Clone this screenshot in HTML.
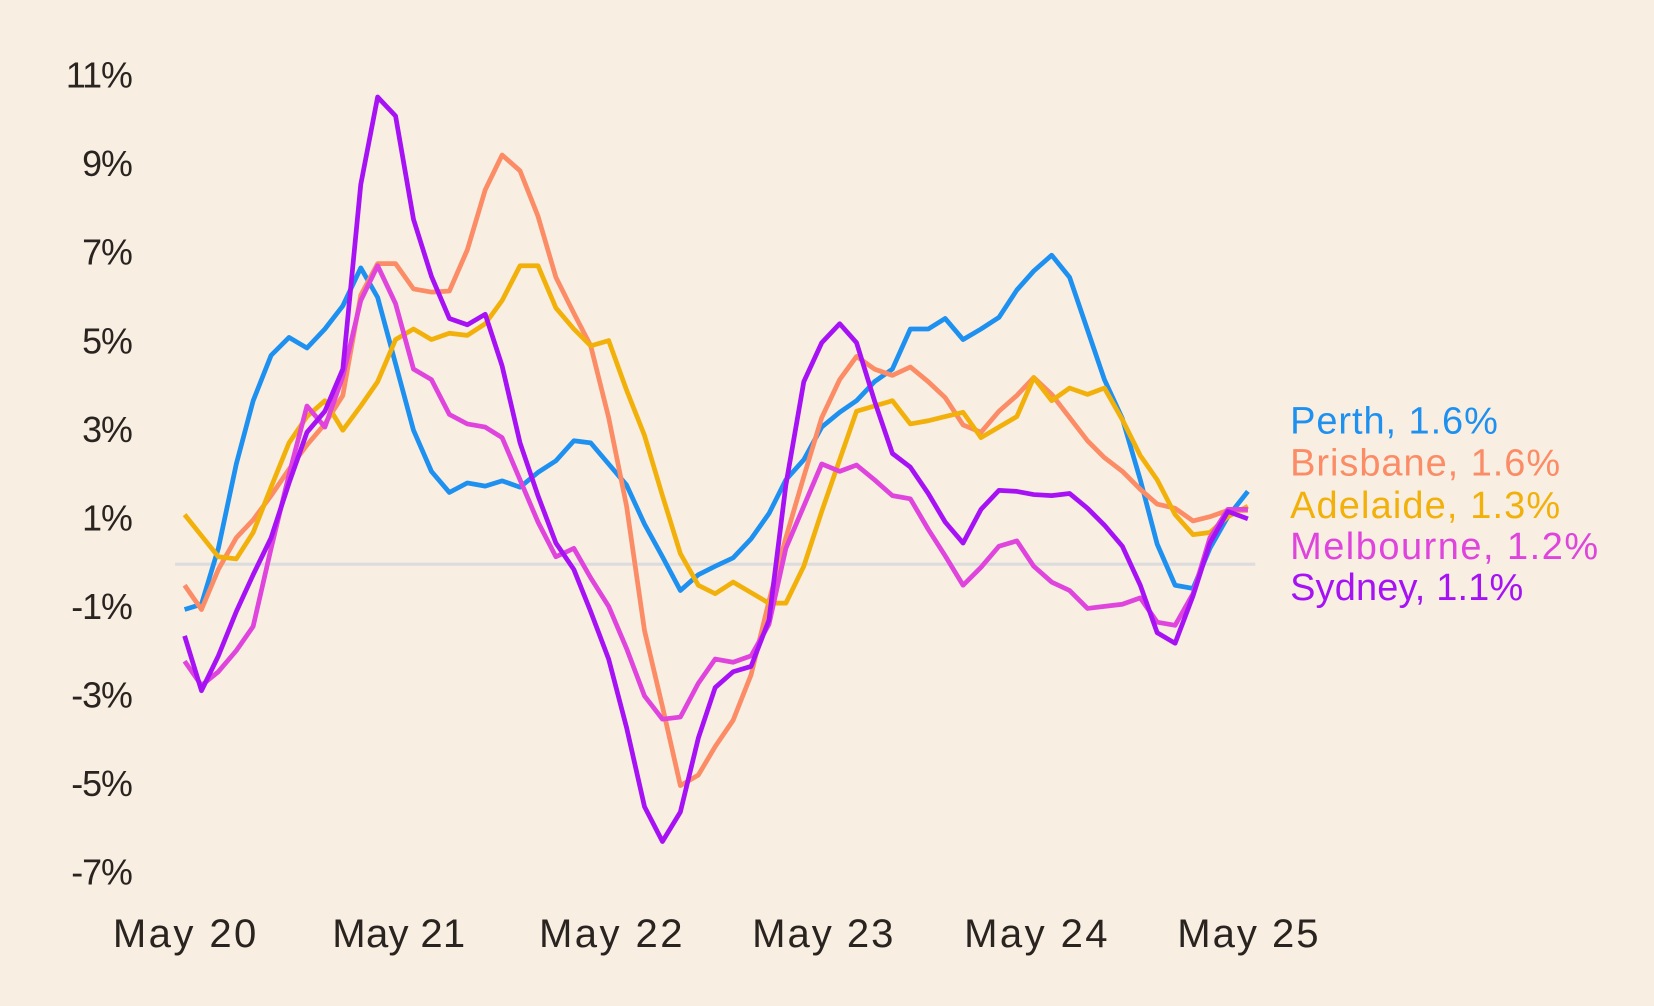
<!DOCTYPE html>
<html><head><meta charset="utf-8"><style>
html,body{margin:0;padding:0;background:#f8eee2;}
svg{display:block;}
text{font-family:"Liberation Sans",sans-serif;}
</style></head><body>
<svg width="1654" height="1006" viewBox="0 0 1568 954" preserveAspectRatio="none" xmlns="http://www.w3.org/2000/svg">
<rect width="1568" height="954" fill="#f8eee2"/>
<line x1="166" y1="535" x2="1190" y2="535" stroke="#dcdcdc" stroke-width="3"/>
<g font-size="34" fill="#2a2420" text-anchor="end" letter-spacing="-1">
<text x="125" y="83">11%</text><text x="125" y="167">9%</text><text x="125" y="251">7%</text><text x="125" y="335">5%</text><text x="125" y="419">3%</text><text x="125" y="503">1%</text><text x="125" y="587">-1%</text><text x="125" y="671">-3%</text><text x="125" y="755">-5%</text><text x="125" y="839">-7%</text>
</g>
<g font-size="38" fill="#2a2420">
<text x="107" y="898" textLength="136">May 20</text><text x="315" y="898" textLength="126">May 21</text><text x="511" y="898" textLength="136">May 22</text><text x="713" y="898" textLength="134">May 23</text><text x="914" y="898" textLength="136">May 24</text><text x="1116" y="898" textLength="134">May 25</text>
</g>
<g fill="none" stroke-width="4.5" stroke-linejoin="round">
<polyline stroke="#1e90f0" points="175,578 191,573 207,520 224,440 240,380 257,337 274,320 291,330 308,312 325,290 342,254 358,282 375,345 392,408 409,447 426,467 443,458 460,461 476,456 493,462 510,448 527,437 544,418 560,420 577,440 594,460 611,497 628,528 645,560 662,545 678,537 695,529 712,511 729,487 745,455 762,436 779,405 796,391 812,380 829,362 846,350 863,312 880,312 896,302 913,322 930,312 947,301 964,275 980,257 997,242 1014,263 1031,313 1047,360 1064,397 1081,455 1097,516 1114,555 1131,558 1147,520 1164,490 1183,466"/>
<polyline stroke="#fb8c66" points="175,555 191,578 207,540 224,510 240,493 257,470 274,445 291,422 308,402 325,375 342,280 358,250 375,250 392,274 409,277 426,276 443,237 460,180 476,147 493,162 510,205 527,263 544,297 560,328 577,396 594,480 611,598 628,670 645,745 662,735 678,708 695,683 712,640 729,570 745,510 762,452 779,396 796,360 812,338 829,350 846,356 863,348 880,362 896,377 913,403 930,410 947,390 964,375 980,358 997,374 1014,396 1031,418 1047,434 1064,447 1081,464 1097,478 1114,482 1131,494 1147,490 1164,484 1183,484"/>
<polyline stroke="#f2b10a" points="175,488 191,508 207,528 224,530 240,505 257,462 274,420 291,395 308,380 325,408 342,385 358,362 375,322 392,312 409,322 426,316 443,318 460,307 476,285 493,252 510,252 527,292 544,312 560,328 577,323 594,370 611,413 628,470 645,525 662,555 678,563 695,552 712,562 729,572 745,572 762,537 779,485 796,436 812,390 829,385 846,380 863,402 880,399 896,395 913,391 930,415 947,405 964,395 980,358 997,380 1014,368 1031,374 1047,368 1064,398 1081,432 1097,455 1114,488 1131,507 1147,505 1164,490 1183,480"/>
<polyline stroke="#df44dc" points="175,627 191,650 207,637 224,617 240,594 257,520 274,450 291,385 308,405 325,357 342,285 358,252 375,288 392,350 409,360 426,393 443,402 460,405 476,415 493,455 510,495 527,528 544,520 560,548 577,575 594,615 611,660 628,682 645,680 662,648 678,625 695,628 712,622 729,592 745,520 762,480 779,440 796,447 812,441 829,455 846,470 863,473 880,502 896,527 913,555 930,538 947,518 964,513 980,537 997,552 1014,560 1031,577 1047,575 1064,573 1081,567 1097,590 1114,593 1131,563 1147,510 1164,483 1183,483"/>
<polyline stroke="#a712f5" points="175,603 191,655 207,622 224,580 240,545 257,510 274,458 291,410 308,390 325,350 342,175 358,92 375,110 392,208 409,262 426,302 443,308 460,298 476,347 493,420 510,470 527,515 544,540 560,580 577,625 594,690 611,765 628,798 645,770 662,700 678,652 695,637 712,632 729,588 745,460 762,362 779,325 796,307 812,325 829,380 846,430 863,443 880,468 896,495 913,515 930,483 947,465 964,466 980,469 997,470 1014,468 1031,482 1047,498 1064,518 1081,555 1097,600 1114,610 1131,565 1147,515 1164,485 1183,492"/>
</g>
<g font-size="36">
<text x="1223" y="411" fill="#1e90f0" textLength="197">Perth, 1.6%</text>
<text x="1223" y="451" fill="#fb8c66" textLength="256">Brisbane, 1.6%</text>
<text x="1223" y="491" fill="#f2b10a" textLength="256">Adelaide, 1.3%</text>
<text x="1223" y="530" fill="#df44dc" textLength="292">Melbourne, 1.2%</text>
<text x="1223" y="569" fill="#a712f5" textLength="221">Sydney, 1.1%</text>
</g>
</svg>
</body></html>
